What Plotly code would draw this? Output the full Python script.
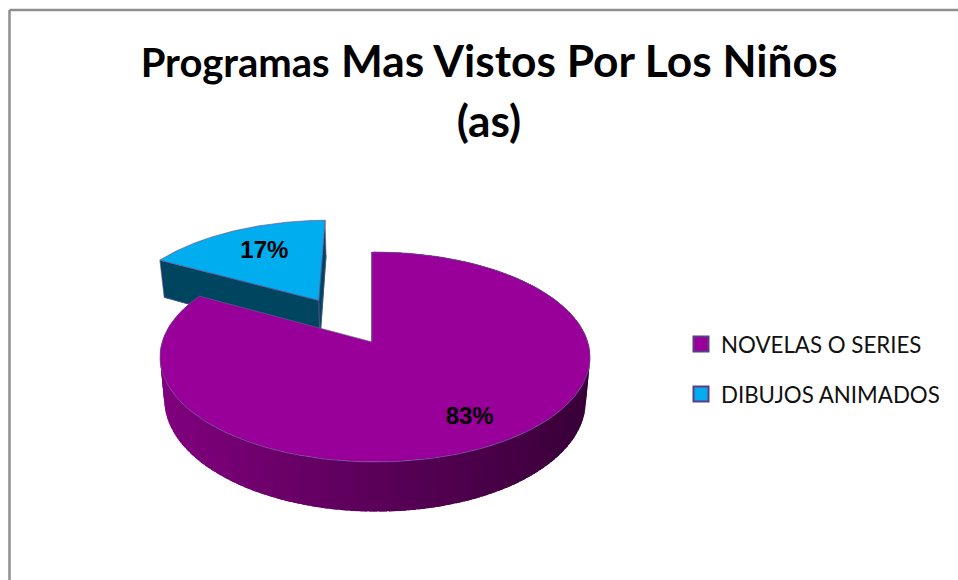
import numpy as np
import plotly.graph_objects as go

# Data
categories = ["NOVELAS O SERIES", "DIBUJOS ANIMADOS"]
values = [83, 17]
labels = ["83%", "17%"]
top_colors = ["#990099", "#00AEEF"]
side_colors = ["#5A0058", "#004560"]
explode = [0.0, 0.5]
explode_nudge_x = [0.0, -0.012]
label_radius = [0.77, 0.70]
label_shift_x = [5, 7]
label_shift_y = [0, 2]
title_lines = ["Programas", "Mas Vistos Por Los Niños", "(as)"]

W, H = 958, 580
CX, CY = 372.0, 342.0
RX, RY = 212.8, 102.86
K, M = 1 / 7, 0.014
DEPTH, SHRINK = 42.5, 0.98
EDGE = "#6A5596"
FRAME = "#8E8E8E"


def project(X, Y, lower=False):
    X, Y = np.asarray(X, float), np.asarray(Y, float)
    w = 1 + K * Y - M * X
    sx = RX * X / w
    sy = -RY * Y / w
    if lower:
        return CX + 3 + (sx - 3) * SHRINK, CY + sy + DEPTH / w
    return CX + sx, CY + sy


def shade(x):
    t = np.clip((x - 160) / 430, 0, 1)
    stops = [(0.0, (128, 0, 126)), (0.5, (90, 0, 88)), (1.0, (56, 0, 56))]
    for (a, ca), (b, cb) in zip(stops, stops[1:]):
        if t <= b:
            f = (t - a) / (b - a)
            c = [round(u + (v - u) * f) for u, v in zip(ca, cb)]
            return f"rgb({c[0]},{c[1]},{c[2]})"
    return "rgb(56,0,56)"


fig = go.Figure()


def poly(x, y, fill, line=None, lw=0.8):
    fig.add_trace(go.Scatter(
        x=list(x), y=list(y), mode="lines", fill="toself", fillcolor=fill,
        line=dict(color=line or fill, width=lw), hoverinfo="skip", showlegend=False,
    ))


# Slice geometry derived from the values; the pie starts at 12 o'clock and runs clockwise
total = sum(values)
slices = []
start = 0.0
for v, e, nx in zip(values, explode, explode_nudge_x):
    sweep = 2 * np.pi * v / total
    mid = start + sweep / 2
    slices.append(dict(a0=start, a1=start + sweep, mid=mid,
                       ox=e * np.sin(mid) + nx, oy=e * np.cos(mid)))
    start += sweep


def wedge(s, lower=False, n=180):
    t = np.linspace(s["a0"], s["a1"], n)
    X = np.r_[s["ox"], s["ox"] + np.sin(t), s["ox"]]
    Y = np.r_[s["oy"], s["oy"] + np.cos(t), s["oy"]]
    return project(X, Y, lower)


def cut_face(s, ang):
    X = [s["ox"], s["ox"] + np.sin(ang)]
    Y = [s["oy"], s["oy"] + np.cos(ang)]
    tx, ty = project(X, Y)
    bx, by = project(X, Y, True)
    return np.r_[tx, bx[::-1], tx[0]], np.r_[ty, by[::-1], ty[0]]


# Exploded slice (drawn first, it sits behind the large one)
s = slices[1]
poly(*wedge(s, True), side_colors[1])
poly(*cut_face(s, s["a0"]), side_colors[1], EDGE, 0.6)
poly(*cut_face(s, s["a1"]), side_colors[1], EDGE, 0.6)
poly(*wedge(s), top_colors[1], EDGE, 0.7)

# Large slice: outer wall as overlapping graded quads, cut wall, then top
s = slices[0]
edges = np.linspace(s["a0"], s["a1"], 130)
step = edges[1] - edges[0]
order = sorted(zip(edges[:-1], edges[1:]), key=lambda p: -np.sin(p[0]))
for a, b in order:
    t = np.linspace(a - step * 0.8, b, 4)
    t = np.clip(t, s["a0"], s["a1"])
    X, Y = s["ox"] + np.sin(t), s["oy"] + np.cos(t)
    tx, ty = project(X, Y)
    bx, by = project(X, Y, True)
    poly(np.r_[tx, bx[::-1], tx[0]], np.r_[ty, by[::-1], ty[0]], shade(tx.mean()), lw=0)
poly(*cut_face(s, s["a0"]), "#3A0038", "#3A0038", 1.2)
poly(*wedge(s), top_colors[0], EDGE, 0.7)

# Data labels
lx, ly = [], []
for sl, r, dx, dy in zip(slices, label_radius, label_shift_x, label_shift_y):
    px, py = project(sl["ox"] + r * np.sin(sl["mid"]), sl["oy"] + r * np.cos(sl["mid"]))
    lx.append(float(px) + dx)
    ly.append(float(py) + dy)
fig.add_trace(go.Scatter(
    x=lx, y=ly, text=labels, mode="text", textposition="middle center",
    textfont=dict(family="Liberation Sans", size=24, color="#000000", weight="bold"),
    hoverinfo="skip", showlegend=False,
))

# Legend entries
for i, (cat, col) in enumerate(zip(categories, top_colors)):
    fig.add_trace(go.Scatter(
        x=[None], y=[None], mode="markers", name=cat, legendgroup=cat,
        marker=dict(symbol="square", size=15, color=col, line=dict(color="#5F3B85", width=2)),
    ))

title = (f'<span style="font-size:40px">{title_lines[0]}</span> '
         f'<span style="font-size:44.3px">{title_lines[1]}</span><br>'
         f'<span style="font-size:44.3px">{title_lines[2]}</span>')

fig.update_layout(
    width=W, height=H, autosize=False,
    margin=dict(l=0, r=0, t=0, b=0),
    paper_bgcolor="white", plot_bgcolor="white",
    xaxis=dict(range=[0, W], visible=False, fixedrange=True),
    yaxis=dict(range=[H, 0], visible=False, fixedrange=True),
    title=dict(text=title, x=489 / W, xanchor="center", xref="paper",
               y=1 - 77 / H, yanchor="top",
               font=dict(family="Lato", size=46, color="#000000", weight="bold")),
    legend=dict(x=681 / W, y=1 - 323 / H, xanchor="left", yanchor="top",
                font=dict(family="Lato", size=22.3, color="#111111"),
                bgcolor="rgba(0,0,0,0)", tracegroupgap=18, itemwidth=30),
    shapes=[
        dict(type="line", xref="paper", yref="paper", x0=9.5 / W, x1=1, y0=1 - 10 / H, y1=1 - 10 / H,
             line=dict(color=FRAME, width=2.5)),
        dict(type="line", xref="paper", yref="paper", x0=9.5 / W, x1=9.5 / W, y0=0, y1=1 - 10 / H,
             line=dict(color=FRAME, width=2.5)),
    ],
)

fig.write_html("out.html", config=dict(displayModeBar=False),
               post_script="document.body.style.margin='0';document.body.style.overflow='hidden';")
